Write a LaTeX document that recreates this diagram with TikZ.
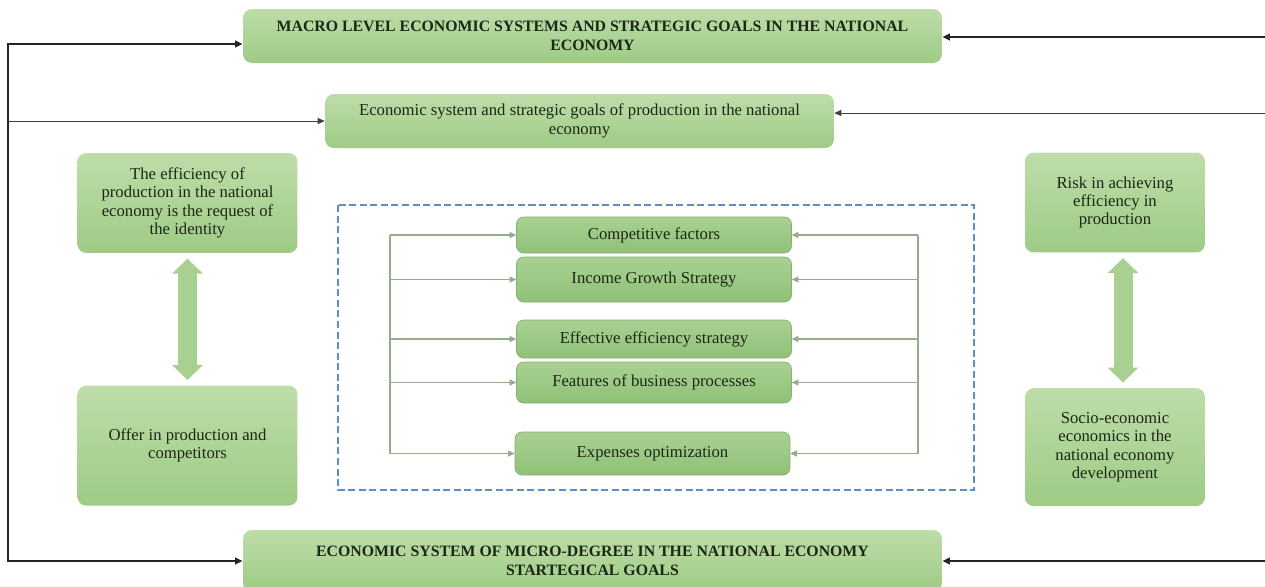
\documentclass[tikz,border=0pt]{standalone}
\usepackage{fontspec}
\setmainfont{Liberation Serif}
\usetikzlibrary{arrows.meta,positioning}
\definecolor{LeafLight}{HTML}{BEDDA9}
\definecolor{LeafDark}{HTML}{9ECB85}
\definecolor{InnerLight}{HTML}{A9D193}
\definecolor{InnerDark}{HTML}{8FC177}
\definecolor{InnerEdge}{HTML}{88B070}
\definecolor{FeedGreen}{HTML}{95AE89}
\definecolor{FrameBlue}{HTML}{5B8FC9}
\definecolor{InkGreen}{HTML}{1C2716}

\begin{document}
\begin{tikzpicture}[
  x=0.02cm,y=-0.02cm,
  box/.style={rounded corners=5pt,align=center,inner sep=3pt,
              top color=LeafLight,bottom color=LeafDark,text=InkGreen,
              font=\fontsize{9.5}{10.4}\selectfont},
  level/.style={box,minimum width=13.98cm,font=\bfseries\fontsize{9}{10.6}\selectfont},
  side/.style={box,minimum height=2cm},
  inner/.style={box,rounded corners=4pt,draw=InnerEdge,top color=InnerLight,
                bottom color=InnerDark,minimum width=5.5cm},
  outer/.style={-{Triangle[length=1.5mm,width=1.3mm]},line width=1.1pt,black!85},
  thinarr/.style={-{Triangle[length=1.4mm,width=1.2mm]},line width=0.5pt,black!75},
  feed/.style={line width=0.6pt,FeedGreen},
  feedarr/.style={feed,-{Triangle[length=1.3mm,width=1.2mm]}},
  twoway/.style={{Triangle[length=0.3cm,width=0.6cm]}-{Triangle[length=0.3cm,width=0.6cm]},
                 line width=0.38cm,LeafDark!90!white,shorten <=3pt,shorten >=3pt},
  frame/.style={FrameBlue,dashed,line width=1.1pt,dash pattern=on 4pt off 2pt}
]
\useasboundingbox (0,0) rectangle (1265,586);

\node[level,minimum height=1.08cm] (macro) at (592.5,36)
  {MACRO LEVEL ECONOMIC SYSTEMS AND STRATEGIC GOALS IN THE NATIONAL\\ECONOMY};
\node[box,minimum width=10.18cm,minimum height=1.08cm] (prod) at (579.5,121)
  {Economic system and strategic goals of production in the national\\economy};
\node[level,minimum height=1.24cm] (micro) at (592.5,561)
  {ECONOMIC SYSTEM OF MICRO-DEGREE IN THE NATIONAL ECONOMY\\STARTEGICAL GOALS};

\node[side,minimum width=4.4cm] (eff) at (187.5,203)
  {The efficiency of\\production in the national\\economy is the request of\\the identity};
\node[side,minimum width=4.4cm,minimum height=2.4cm,below=2.64cm of eff] (offer)
  {Offer in production and\\competitors};
\node[side,minimum width=3.6cm] (risk) at (1115,202.5)
  {Risk in achieving\\efficiency in\\production};
\node[side,minimum width=3.6cm,minimum height=2.36cm,below=2.7cm of risk] (socio)
  {Socio-economic\\economics in the\\national economy\\development};

\draw[twoway] (eff) -- (offer);
\draw[twoway] ([xshift=0.16cm]risk.south) -- ([xshift=0.16cm]socio.north);

\draw[frame] (338,205) rectangle (974,490);

\node[inner,minimum height=0.72cm] (comp) at (654,235) {Competitive factors};
\node[inner,minimum height=0.9cm] (income) at (654,279.5) {Income Growth Strategy};
\node[inner,minimum height=0.76cm] (effect) at (654,339) {Effective efficiency strategy};
\node[inner,minimum height=0.82cm] (feature) at (654,382.5) {Features of business processes};
\node[inner,minimum height=0.86cm] (expense) at (652.5,453.5) {Expenses optimization};

\coordinate (railL) at (390,0);
\coordinate (railR) at (918,0);
\draw[feed] (comp.west -| railL) -- (expense.west -| railL);
\draw[feed] (comp.east -| railR) -- (expense.east -| railR);
\foreach \n in {comp,income,effect,feature,expense}{
  \draw[feedarr] (\n.west -| railL) -- (\n.west);
  \draw[feedarr] (\n.east -| railR) -- (\n.east);
}

\coordinate (lt) at (8,44);
\coordinate (lm) at (8,121);
\coordinate (lb) at (8,561);
\coordinate (rt) at (1265,37);
\coordinate (rm) at (1265,113);
\coordinate (rb) at (1265,561);
\draw[outer] (lb) -- (lt) -- (macro.west |- lt);
\draw[outer] (lt) -- (lb) -- (micro.west);
\draw[thinarr] (lm) -- (prod.west);
\draw[outer] (rt) -- (macro.east |- rt);
\draw[thinarr] (rm) -- (prod.east |- rm);
\draw[outer] (rb) -- (micro.east);
\end{tikzpicture}
\end{document}
